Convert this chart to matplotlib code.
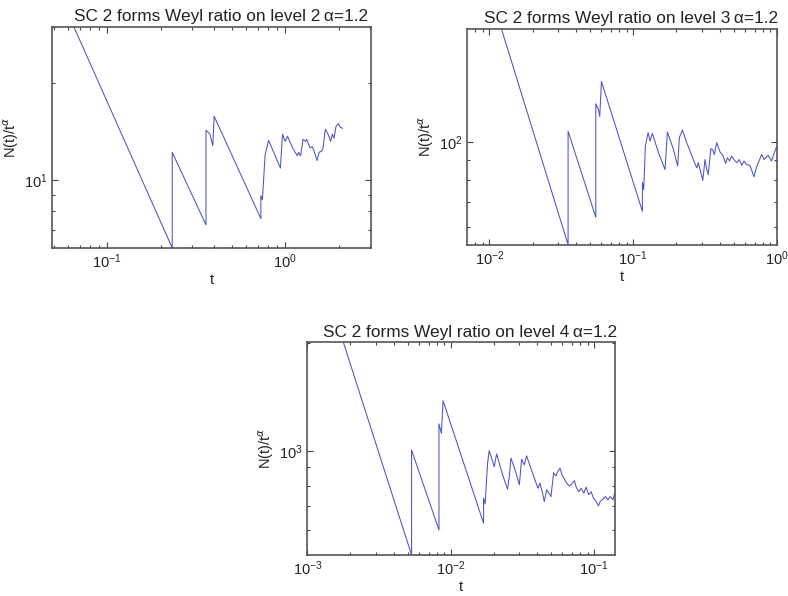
import numpy as np
import matplotlib
matplotlib.use("Agg")
import matplotlib.pyplot as plt
from matplotlib.ticker import NullFormatter, LogLocator

plt.rcParams['font.family'] = ['Liberation Sans', 'DejaVu Sans']

# level 2 (vertices of the sawtooth)
t_lvl2 = [0.065, 0.232, 0.232, 0.359, 0.359, 0.378, 0.392, 0.399, 0.730, 0.730,
          0.745, 0.771, 0.807, 0.940, 0.966, 1.00, 1.03, 1.10, 1.17, 1.19,
          1.22, 1.26, 1.30, 1.32, 1.38, 1.42, 1.46, 1.51, 1.55, 1.60,
          1.63, 1.68, 1.73, 1.76, 1.80, 1.84, 1.88, 1.93, 1.99, 2.04, 2.10]
r_lvl2 = [30.0, 6.15, 12.2, 7.26, 14.3, 13.9, 12.8, 15.8, 7.59, 8.95,
          8.69, 11.97, 13.3, 10.9, 13.9, 13.2, 13.7, 12.6, 11.9, 12.2,
          11.9, 13.4, 13.2, 13.4, 12.6, 12.7, 12.2, 11.5, 12.2, 12.3,
          12.5, 14.4, 14.0, 13.7, 13.2, 13.9, 13.5, 14.7, 15.0, 14.6, 14.5]

# level 3
t_lvl3 = [0.01213, 0.0353, 0.0353, 0.0550, 0.0550, 0.0574, 0.0586, 0.0602, 0.116, 0.116,
          0.1185, 0.1216, 0.127, 0.131, 0.136, 0.150, 0.1667, 0.173, 0.1905, 0.204,
          0.2095, 0.220, 0.236, 0.262, 0.277, 0.284, 0.305, 0.316, 0.325, 0.333,
          0.347, 0.358, 0.367, 0.381, 0.402, 0.420, 0.440, 0.452, 0.467, 0.484,
          0.502, 0.525, 0.547, 0.569, 0.590, 0.615, 0.649, 0.692, 0.722, 0.783,
          0.813, 0.869, 0.918, 0.957, 0.995]
r_lvl3 = [198.0, 54.1, 106.9, 63.8, 126.0, 121.7, 116.9, 144.2, 66.1, 78.7,
          75.3, 97.8, 106.0, 100.8, 105.6, 94.0, 84.9, 106.4, 95.9, 86.7,
          102.8, 107.7, 99.8, 90.2, 85.8, 88.5, 79.6, 90.2, 84.9, 82.4,
          96.3, 95.5, 93.0, 99.8, 94.4, 92.5, 88.1, 91.2, 89.4, 92.1,
          90.2, 88.5, 90.2, 87.1, 89.4, 87.5, 87.1, 81.3, 86.3, 93.0,
          90.2, 92.5, 89.4, 94.0, 97.4]

# level 4
t_lvl4 = [0.00178, 0.00533, 0.00533, 0.00828, 0.00828, 0.00861, 0.00884, 0.01694, 0.01694, 0.01738,
          0.01807, 0.01854, 0.0196, 0.0201, 0.0209, 0.0230, 0.0249, 0.0256, 0.0263, 0.0282,
          0.0301, 0.0312, 0.0326, 0.0338, 0.0362, 0.0393, 0.0406, 0.0419, 0.0437, 0.0449,
          0.0467, 0.0487, 0.0500, 0.0522, 0.0542, 0.0557, 0.0578, 0.0597, 0.0620, 0.0644,
          0.0672, 0.0701, 0.0728, 0.0748, 0.0781, 0.0811, 0.0847, 0.0879, 0.0918, 0.0953,
          0.0989, 0.1033, 0.1072, 0.1102, 0.1151, 0.1200, 0.1247, 0.1294, 0.1352, 0.1387]
r_lvl4 = [2018, 512, 1006, 601, 1190, 1120, 1382, 628, 738, 711,
          924, 1002, 934, 904, 981, 857, 782, 845, 954, 881,
          804, 948, 914, 969, 895, 815, 786, 813, 762, 722,
          778, 759, 745, 869, 851, 875, 895, 857, 834, 813,
          798, 809, 826, 794, 769, 786, 762, 792, 754, 769,
          738, 722, 702, 722, 732, 745, 730, 745, 730, 759]

panels = [
    dict(t=t_lvl2, r=r_lvl2, level=2, rect=[0.066, 0.584, 0.405, 0.371],
         xlim=(0.049, 3.04), ylim=(6.15, 30.0)),
    dict(t=t_lvl3, r=r_lvl3, level=3, rect=[0.593, 0.589, 0.393, 0.363],
         xlim=(0.00703, 1.0), ylim=(54.0, 198.0)),
    dict(t=t_lvl4, r=r_lvl4, level=4, rect=[0.390, 0.069, 0.390, 0.357],
         xlim=(0.001, 0.139), ylim=(512.0, 2015.0)),
]

fig = plt.figure(figsize=(7.88, 5.96), dpi=100)

for p in panels:
    ax = fig.add_axes(p['rect'])
    ax.plot(p['t'], p['r'], color='#5050cc', lw=0.75)
    ax.set_xscale('log')
    ax.set_yscale('log')
    ax.set_xlim(*p['xlim'])
    ax.set_ylim(*p['ylim'])
    ax.yaxis.set_major_locator(LogLocator(base=10, numticks=10))
    ax.yaxis.set_minor_locator(LogLocator(base=10, subs=np.arange(2, 10), numticks=10))
    ax.xaxis.set_minor_formatter(NullFormatter())
    ax.yaxis.set_minor_formatter(NullFormatter())
    ax.tick_params(which='both', direction='in', top=True, right=True,
                   colors='#444444', labelcolor='#222222', labelsize=10.5, width=0.8)
    ax.tick_params(which='major', length=4)
    ax.tick_params(which='minor', length=2)
    for s in ax.spines.values():
        s.set_color('#555555')
        s.set_linewidth(1.2)
    # the titles sit a little right of the axes centre in the original
    shift = 9.0 / (p['rect'][2] * 788)
    ax.set_title('SC 2 forms Weyl ratio on level %d\u2009\u03b1=1.2' % p['level'],
                 fontsize=12.4, color='#222222', pad=4, x=0.5 + shift)
    ax.set_xlabel('t', fontsize=10.5, color='#222222', labelpad=1)
    ax.set_ylabel(r'N(t)/t$^{\alpha}$', fontsize=10.5, color='#222222', labelpad=2)

fig.savefig('out.png', dpi=100)
